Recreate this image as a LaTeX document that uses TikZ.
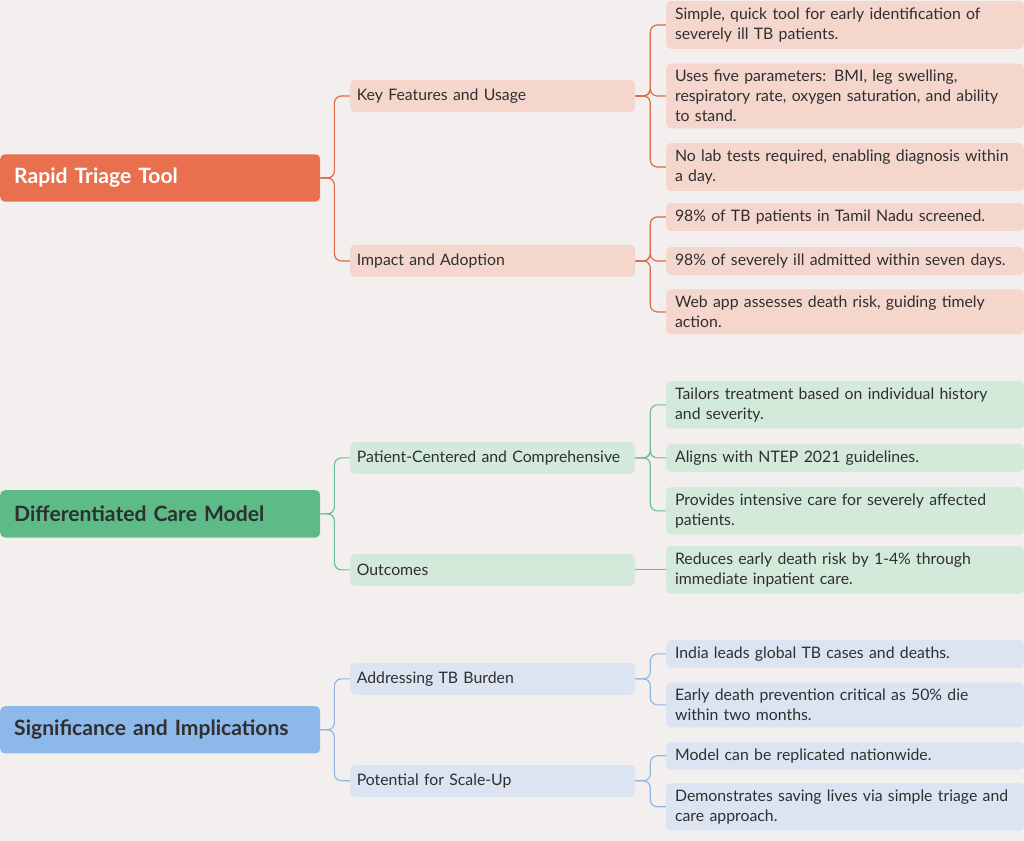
\documentclass[tikz,border=0pt]{standalone}
\usepackage{fontspec}
\setmainfont{Lato}
\usepackage{xcolor}
\usetikzlibrary{positioning}
\hyphenpenalty=10000
\definecolor{bgc}{HTML}{F3EFEE}
\definecolor{orroot}{HTML}{E8704F}
\definecolor{orleaf}{HTML}{F5D6CD}
\definecolor{orline}{HTML}{D9694A}
\definecolor{grroot}{HTML}{5CBB87}
\definecolor{grleaf}{HTML}{D3EADB}
\definecolor{grline}{HTML}{6DBF93}
\definecolor{blroot}{HTML}{8DB8EA}
\definecolor{blleaf}{HTML}{DCE4F1}
\definecolor{blline}{HTML}{92B6E0}
\definecolor{txt}{HTML}{2F2F2F}
\begin{document}
\begin{tikzpicture}[x=0.03cm, y=-0.03cm,
        root/.style={rounded corners=4pt, anchor=west, minimum width=9.6cm, minimum height=1.42cm, text width=8.76cm, align=left, inner xsep=0.42cm, font=\fontsize{18}{22}\selectfont\bfseries},
        mid/.style={rounded corners=4pt, anchor=west, minimum width=8.55cm, minimum height=0.96cm, text width=8.15cm, align=left, inner xsep=0.2cm, text=txt, font=\fontsize{13.5}{16}\selectfont},
        leaf/.style={rounded corners=4pt, anchor=west, minimum width=10.74cm, text width=10.2cm, align=left, inner xsep=0.18cm, inner ysep=0.2cm, text=txt, font=\fontsize{13.5}{17}\selectfont},
        link/.style={line width=1pt, rounded corners=6pt}]

        \fill[bgc] (0,0) rectangle (1024,841);

        % Roots
        \node[root, fill=orroot, text=white] (rapid) at (0,178) {Rapid Triage Tool};
        \node[root, fill=grroot, text=txt] (care) at (0,514) {Differentiated Care Model};
        \node[root, fill=blroot, text=txt] (signif) at (0,730) {Significance and Implications};

        % Middle level
        \node[mid, fill=orleaf] (keyfeat) at (350,96) {Key Features and Usage};
        \node[mid, fill=orleaf] (impact) at (350,261) {Impact and Adoption};
        \node[mid, fill=grleaf] (patient) at (350,458) {Patient-Centered and Comprehensive};
        \node[mid, fill=grleaf] (outcome) at (350,570) {Outcomes};
        \node[mid, fill=blleaf] (burden) at (350,679) {Addressing TB Burden};
        \node[mid, fill=blleaf] (scale) at (350,781) {Potential for Scale-Up};

        % Leaves
        \node[leaf, fill=orleaf] (simple) at (666,25) {Simple, quick tool for early identification of severely ill TB patients.};
        \node[leaf, fill=orleaf] (params) at (666,96) {Uses five parameters: BMI, leg swelling, respiratory rate, oxygen saturation, and ability to stand.};
        \node[leaf, fill=orleaf] (nolab) at (666,167) {No lab tests required, enabling diagnosis within a day.};
        \node[leaf, fill=orleaf] (tamil) at (666,217) {98\% of TB patients in Tamil Nadu screened.};
        \node[leaf, fill=orleaf] (admit) at (666,261) {98\% of severely ill admitted within seven days.};
        \node[leaf, fill=orleaf] (webapp) at (666,312) {Web app assesses death risk, guiding timely action.};
        \node[leaf, fill=grleaf] (tailor) at (666,405) {Tailors treatment based on individual history and severity.};
        \node[leaf, fill=grleaf] (ntep) at (666,458) {Aligns with NTEP 2021 guidelines.};
        \node[leaf, fill=grleaf] (intense) at (666,511) {Provides intensive care for severely affected patients.};
        \node[leaf, fill=grleaf] (reduce) at (666,570) {Reduces early death risk by 1-4\% through immediate inpatient care.};
        \node[leaf, fill=blleaf] (india) at (666,654) {India leads global TB cases and deaths.};
        \node[leaf, fill=blleaf] (early) at (666,705) {Early death prevention critical as 50\% die within two months.};
        \node[leaf, fill=blleaf] (nation) at (666,756) {Model can be replicated nationwide.};
        \node[leaf, fill=blleaf] (demo) at (666,807) {Demonstrates saving lives via simple triage and care approach.};

        % Links
        \foreach \a/\b/\c in {rapid/keyfeat/orline, rapid/impact/orline, care/patient/grline, care/outcome/grline, signif/burden/blline, signif/scale/blline}
            \draw[link, \c] (\a.east) -- ++(14,0) |- (\b.west);
        \foreach \a/\b/\c in {keyfeat/simple/orline, keyfeat/params/orline, keyfeat/nolab/orline,
                impact/tamil/orline, impact/admit/orline, impact/webapp/orline,
                patient/tailor/grline, patient/ntep/grline, patient/intense/grline,
                burden/india/blline, burden/early/blline, scale/nation/blline, scale/demo/blline}
            \draw[link, \c] (\a.east) -- ++(15,0) |- (\b.west);
        \draw[link, grline] (outcome) -- (reduce);
\end{tikzpicture}
\end{document}
